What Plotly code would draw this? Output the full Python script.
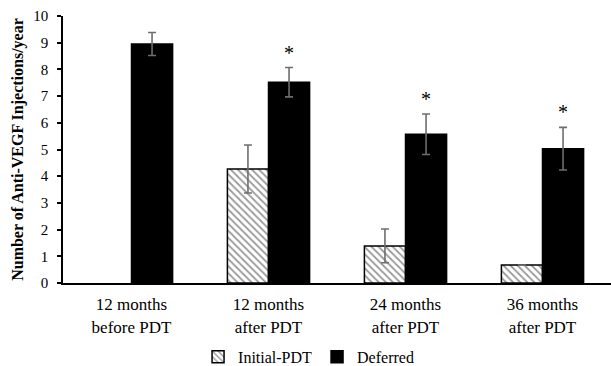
import plotly.graph_objects as go

categories = ["12 months<br>before PDT", "12 months<br>after PDT", "24 months<br>after PDT", "36 months<br>after PDT"]
initial_pdt = [None, 4.27, 1.39, 0.67]
initial_err = [None, 0.90, 0.63, None]
deferred = [8.95, 7.52, 5.57, 5.03]
deferred_err = [0.43, 0.55, 0.76, 0.80]
significant = [False, True, True, True]

x_idx = list(range(len(categories)))
font_family = "Liberation Serif"

fig = go.Figure()
fig.add_trace(go.Bar(
    name="Initial-PDT", x=x_idx, y=initial_pdt,
    marker=dict(color="white", line=dict(color="black", width=1.5),
                pattern=dict(shape="\\", fgcolor="#333333", bgcolor="white", size=5, solidity=0.35)),
    error_y=dict(type="data", array=initial_err, visible=True, color="#6e6e6e", thickness=1.6, width=4),
))
fig.add_trace(go.Bar(
    name="Deferred", x=x_idx, y=deferred,
    marker=dict(color="black", line=dict(color="black", width=1.5)),
    error_y=dict(type="data", array=deferred_err, visible=True, color="#6e6e6e", thickness=1.6, width=4),
))

for i, (v, e, s) in enumerate(zip(deferred, deferred_err, significant)):
    if s:
        fig.add_annotation(x=i, y=v + e, text="*", showarrow=False, xshift=20.5, yshift=2,
                           yanchor="bottom", font=dict(family=font_family, size=20, color="black"))

fig.update_layout(
    width=611, height=366,
    margin=dict(l=63, r=0, t=16, b=83, autoexpand=False),
    plot_bgcolor="white", paper_bgcolor="white",
    barmode="group", bargap=0.4, bargroupgap=0,
    font=dict(family=font_family, color="black"),
    showlegend=True,
    legend=dict(orientation="h", xref="container", yref="container", x=0.505, y=0.025,
                xanchor="center", yanchor="middle", font=dict(size=16, family=font_family),
                itemwidth=30, traceorder="normal"),
)
fig.update_xaxes(
    tickmode="array", tickvals=x_idx, ticktext=categories, range=[-0.5, 3.5],
    showline=True, linecolor="black", linewidth=2, ticks="", showgrid=False, automargin=False,
    tickfont=dict(size=17, family=font_family), zeroline=False, ticklabelstandoff=5,
)
fig.update_yaxes(
    range=[0, 10], dtick=1, showline=True, linecolor="black", linewidth=1.5, automargin=False,
    ticks="outside", ticklen=4, tickcolor="black", tickwidth=1.5, showgrid=False, zeroline=False,
    tickfont=dict(size=15, family=font_family), ticklabelstandoff=6,
    title=dict(text="<b>Number of Anti-VEGF Injections/year</b>", font=dict(size=16, family=font_family), standoff=6),
)

fig.write_html("out.html", post_script="document.body.style.margin='0';",
               config={"displayModeBar": False})
